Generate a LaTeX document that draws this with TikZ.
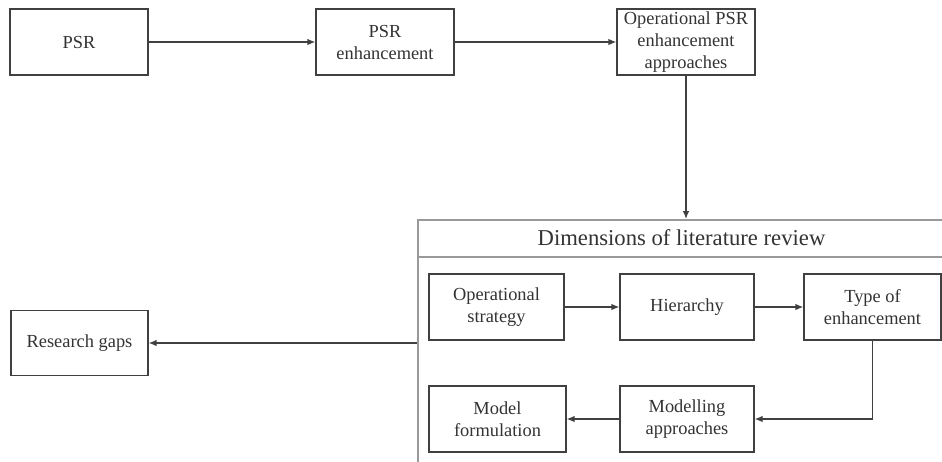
\documentclass[tikz,border=0pt]{standalone}
\usepackage{fontspec}
\setmainfont{Liberation Serif}
\usetikzlibrary{arrows.meta}
\begin{document}
\begin{tikzpicture}[x=0.75pt,y=-0.75pt,
  box/.style={draw=black!75, line width=1pt, fill=white, minimum width=103.5pt, minimum height=49.5pt,
    align=center, inner sep=1pt, text=black!80, font=\fontsize{13.8}{16.5}\selectfont},
  conn/.style={draw=black!75, line width=1pt, -{Latex[length=6pt,width=5pt]}},
  outer/.style={draw=black!40, line width=1.2pt}]
\clip (0,0) rectangle (942,461);
\fill[white] (0,0) rectangle (942,461);
% top row
\node[box] (psr) at (79,42) {PSR};
\node[box] (enh) at (385,42) {PSR\\enhancement};
\node[box] (ops) at (686,42) {Operational PSR\\enhancement\\approaches};
% big frame
\node[outer, minimum width=396.75pt, minimum height=195pt, anchor=north west] (dim) at (417,219) {};
\coordinate (divl) at (417,257);
\draw[outer] (divl) -- (divl -| dim.east);
\node[text=black!80, font=\fontsize{17}{20}\selectfont] (title) at (681.5,238) {Dimensions of literature review};
% inner boxes
\node[box, minimum width=101.25pt] (strat) at (496.5,307) {Operational\\strategy};
\node[box, minimum width=100.5pt] (hier) at (687,307) {Hierarchy};
\node[box, minimum width=102.75pt] (type) at (872.5,307) {Type of\\enhancement};
\node[box, minimum width=102.75pt] (form) at (497.5,419) {Model\\formulation};
\node[box, minimum width=100.5pt] (appr) at (687,419) {Modelling\\approaches};
% research gaps
\node[box, minimum width=102.75pt, minimum height=48.75pt] (gaps) at (79.5,343) {Research gaps};
% connectors
\draw[conn] (psr) -- (enh);
\draw[conn] (enh) -- (ops);
\draw[conn] (ops.south) -- (ops.south |- dim.north);
\draw[conn] (strat) -- (hier);
\draw[conn] (hier) -- (type);
\draw[conn] (type.south) |- (appr.east);
\draw[conn] (appr) -- (form);
\draw[conn] (dim.west |- gaps.east) -- (gaps.east);
\end{tikzpicture}
\end{document}
